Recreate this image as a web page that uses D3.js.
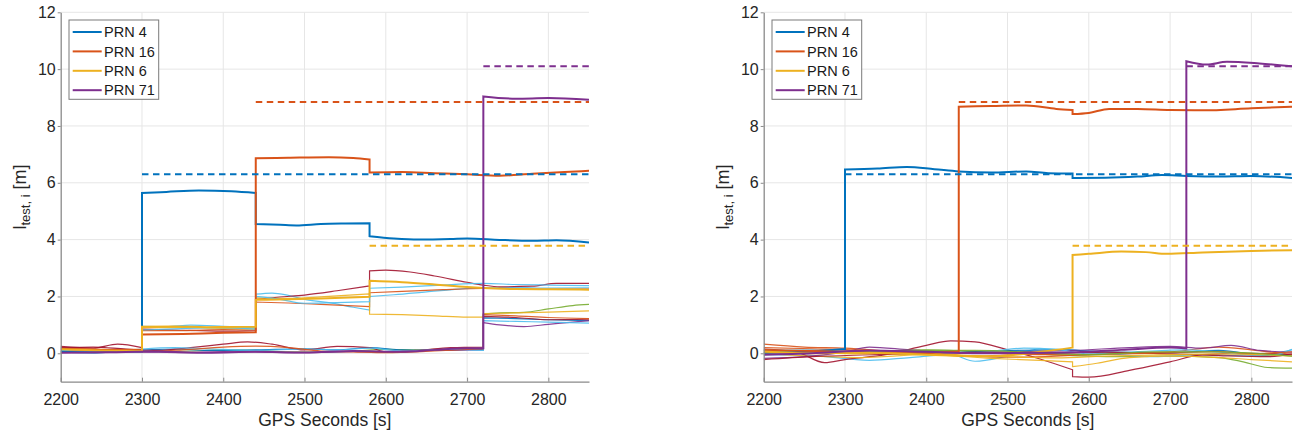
<!DOCTYPE html>
<html><head><meta charset="utf-8">
<script src="https://cdn.jsdelivr.net/npm/d3@7"></script>
<style>body{margin:0;background:#fff;} svg{display:block;font-family:"Liberation Sans",Arial,sans-serif;}</style>
</head><body><svg id="c" width="1296" height="434"></svg>
<script>
// ---- ticks / labels ----
const xTicks = [2200, 2300, 2400, 2500, 2600, 2700, 2800];
const yTicks = [0, 2, 4, 6, 8, 10, 12];
const xDomain = [2200, 2850];
const yDomain = [-1, 12];
const legendNames = ["PRN 4", "PRN 16", "PRN 6", "PRN 71"];
const xLabel = "GPS Seconds [s]";

// ---- thresholds (dashed) per attacked PRN ----
const thresholdStart = [2300, 2440, 2580, 2720];
const thresholdValue = [6.3, 8.84, 3.78, 10.1];

// ---- LEFT panel: main PRNs ----
const L_PRN4 = [[2200,0.05],[2240,0.03],[2270,0.06],[2300,0.06],[2300,5.64],[2330,5.68],[2370,5.73],[2410,5.7],[2440,5.64],[2440,4.55],[2470,4.52],[2490,4.5],[2520,4.55],[2550,4.57],[2580,4.58],[2580,4.12],[2610,4.04],[2640,4.0],[2680,4.02],[2700,4.04],[2740,3.99],[2780,3.96],[2810,3.98],[2850,3.9]];
const L_PRN16 = [[2200,0.16],[2250,0.12],[2300,0.12],[2300,0.66],[2350,0.68],[2400,0.72],[2440,0.74],[2440,6.86],[2480,6.88],[2530,6.9],[2560,6.87],[2580,6.82],[2580,6.36],[2620,6.38],[2660,6.34],[2700,6.3],[2740,6.25],[2780,6.32],[2820,6.38],[2850,6.42]];
const L_PRN6 = [[2200,0.14],[2250,0.1],[2300,0.08],[2300,0.93],[2340,0.94],[2380,0.92],[2440,0.93],[2440,1.88],[2480,1.9],[2520,1.93],[2580,1.99],[2580,2.55],[2620,2.5],[2660,2.42],[2700,2.33],[2720,2.3],[2760,2.26],[2800,2.25],[2850,2.24]];
const L_PRN71 = [[2200,0.02],[2260,0.04],[2320,0.06],[2380,0.02],[2440,0.05],[2500,0.03],[2560,0.08],[2620,0.05],[2660,0.12],[2700,0.18],[2720,0.18],[2720,9.04],[2760,8.96],[2800,8.98],[2850,8.92]];

// ---- LEFT panel: other satellites ----
const L_green1 = [[2200,0.08],[2240,0.05],[2280,0.1],[2320,0.06],[2360,0.08],[2400,0.12],[2440,0.1],[2480,0.05],[2520,0.04],[2560,0.08],[2600,0.14],[2640,0.12],[2680,0.16],[2720,0.14],[2720,1.38],[2740,1.42],[2770,1.44],[2800,1.56],[2830,1.68],[2850,1.72]];
const L_cyan1 = [[2200,0.12],[2230,0.06],[2260,0.04],[2300,0.12],[2300,0.95],[2330,0.94],[2360,0.99],[2400,0.95],[2440,0.9],[2440,2.08],[2460,2.12],[2480,2.04],[2500,1.9],[2530,1.78],[2560,1.62],[2580,1.52],[2580,2.0],[2610,2.06],[2650,2.16],[2690,2.26],[2720,2.3],[2760,2.32],[2800,2.29],[2850,2.3]];
const L_darkred1 = [[2200,0.24],[2240,0.18],[2270,0.32],[2300,0.2],[2300,0.85],[2340,0.82],[2400,0.78],[2440,0.8],[2440,1.9],[2470,1.98],[2500,2.05],[2540,2.2],[2580,2.37],[2580,2.9],[2600,2.93],[2630,2.86],[2660,2.72],[2700,2.5],[2720,2.4],[2740,2.34],[2780,2.36],[2810,2.46],[2850,2.46]];
const L_blue2 = [[2200,0.06],[2250,0.08],[2300,0.12],[2340,0.15],[2380,0.1],[2440,0.12],[2500,0.16],[2540,0.12],[2580,0.2],[2620,0.12],[2660,0.1],[2720,0.15],[2720,1.25],[2760,1.22],[2800,1.18],[2850,1.15]];
const L_orange2 = [[2200,0.18],[2250,0.14],[2300,0.15],[2300,0.8],[2350,0.8],[2400,0.83],[2440,0.82],[2440,1.8],[2480,1.77],[2520,1.72],[2580,1.64],[2580,2.13],[2620,2.18],[2670,2.24],[2720,2.28],[2760,2.27],[2800,2.25],[2850,2.26]];
const L_yellow2 = [[2200,0.12],[2250,0.08],[2300,0.1],[2300,0.9],[2350,0.9],[2400,0.88],[2440,0.86],[2440,1.95],[2480,1.93],[2530,2.0],[2580,2.09],[2580,1.38],[2620,1.36],[2660,1.32],[2700,1.27],[2720,1.27],[2720,1.4],[2760,1.42],[2800,1.45],[2850,1.49]];
const L_purple2 = [[2200,0.04],[2260,0.06],[2300,0.05],[2350,0.02],[2400,0.06],[2450,0.04],[2500,0.02],[2560,0.06],[2600,0.04],[2660,0.1],[2720,0.12],[2720,1.08],[2740,1.0],[2770,0.94],[2800,1.02],[2830,1.1],[2850,1.15]];
const L_cyan2 = [[2200,0.06],[2260,0.1],[2300,0.08],[2300,0.82],[2340,0.86],[2390,0.9],[2440,0.85],[2440,2.0],[2470,1.9],[2500,1.76],[2540,1.78],[2580,1.82],[2580,2.29],[2620,2.33],[2670,2.4],[2720,2.46],[2760,2.42],[2800,2.4],[2850,2.38]];
const L_darkred2 = [[2200,0.2],[2240,0.22],[2280,0.15],[2320,0.1],[2360,0.2],[2400,0.32],[2430,0.4],[2460,0.32],[2500,0.12],[2540,0.24],[2580,0.2],[2600,0.05],[2640,0.1],[2680,0.2],[2720,0.22],[2720,1.3],[2760,1.26],[2800,1.18],[2850,1.2]];
const L_cyan3 = [[2200,0.1],[2260,0.04],[2300,0.15],[2340,0.2],[2380,0.16],[2440,0.1],[2500,0.15],[2540,0.12],[2580,0.18],[2620,0.08],[2680,0.14],[2720,0.1],[2720,1.15],[2760,1.12],[2800,1.1],[2850,1.06]];
const L_orange3 = [[2200,0.15],[2260,0.12],[2300,0.06],[2350,0.12],[2400,0.22],[2440,0.25],[2480,0.2],[2520,0.08],[2560,0.05],[2600,0.02],[2660,0.08],[2720,0.16],[2720,1.36],[2760,1.32],[2800,1.26],[2850,1.22]];

// ---- RIGHT panel: main PRNs ----
const R_PRN4 = [[2200,0.02],[2250,0.05],[2300,0.15],[2300,6.47],[2340,6.5],[2376,6.56],[2410,6.48],[2440,6.4],[2480,6.36],[2523,6.4],[2550,6.34],[2580,6.33],[2580,6.17],[2620,6.18],[2660,6.22],[2690,6.27],[2720,6.24],[2760,6.22],[2800,6.24],[2850,6.17]];
const R_PRN16 = [[2200,0.12],[2300,0.05],[2360,0.0],[2400,0.02],[2440,0.06],[2440,8.68],[2480,8.7],[2523,8.72],[2560,8.6],[2580,8.56],[2580,8.42],[2600,8.46],[2625,8.6],[2660,8.6],[2700,8.56],[2740,8.55],[2800,8.62],[2850,8.68]];
const R_PRN6 = [[2200,0.05],[2260,0.0],[2320,0.02],[2400,-0.05],[2480,-0.1],[2540,0.05],[2580,0.2],[2580,3.46],[2600,3.5],[2640,3.58],[2670,3.56],[2696,3.5],[2740,3.55],[2800,3.6],[2850,3.63]];
const R_PRN71 = [[2200,-0.05],[2260,0.0],[2330,0.1],[2400,0.05],[2480,0.0],[2560,0.02],[2640,0.12],[2700,0.2],[2720,0.17],[2720,10.28],[2745,10.16],[2770,10.26],[2810,10.2],[2850,10.1]];

// ---- RIGHT panel: other satellites ----
const R_green1 = [[2200,0.05],[2260,0.08],[2320,0.02],[2400,0.12],[2460,0.06],[2520,0.0],[2580,-0.08],[2640,-0.12],[2700,-0.1],[2760,-0.15],[2790,-0.3],[2820,-0.5],[2850,-0.52]];
const R_cyan1 = [[2200,-0.05],[2260,-0.08],[2330,-0.25],[2380,-0.15],[2430,-0.05],[2460,-0.28],[2500,-0.1],[2540,0.15],[2580,0.12],[2620,0.0],[2680,-0.12],[2740,-0.05],[2800,-0.1],[2850,0.12]];
const R_darkred1 = [[2200,0.15],[2240,0.05],[2275,-0.33],[2300,-0.22],[2350,-0.05],[2400,0.28],[2430,0.44],[2460,0.4],[2500,0.12],[2540,-0.2],[2580,-0.58],[2580,-0.82],[2600,-0.84],[2650,-0.6],[2700,-0.3],[2740,-0.05],[2800,0.0],[2850,-0.05]];
const R_blue2 = [[2200,0.1],[2260,0.02],[2320,0.08],[2400,0.0],[2480,0.08],[2560,0.12],[2620,0.05],[2700,0.02],[2760,0.1],[2820,-0.08],[2850,-0.05]];
const R_orange2 = [[2200,0.32],[2250,0.22],[2300,0.18],[2360,0.06],[2420,-0.04],[2500,-0.14],[2560,-0.1],[2620,0.0],[2700,0.05],[2760,0.22],[2800,0.12],[2850,-0.05]];
const R_yellow2 = [[2200,0.0],[2260,-0.1],[2320,-0.15],[2400,-0.05],[2480,-0.18],[2540,-0.25],[2580,-0.3],[2580,-0.47],[2610,-0.35],[2650,-0.15],[2700,-0.1],[2760,-0.15],[2800,-0.22],[2850,-0.3]];
const R_purple2 = [[2200,-0.18],[2250,-0.12],[2300,0.05],[2330,0.22],[2380,0.12],[2450,0.02],[2520,0.06],[2580,0.1],[2650,0.2],[2700,0.24],[2740,0.18],[2775,0.28],[2810,0.1],[2850,0.04]];
const R_cyan2 = [[2200,0.1],[2260,0.12],[2320,0.06],[2400,0.05],[2460,0.02],[2520,0.18],[2560,0.14],[2600,-0.02],[2660,0.06],[2720,0.12],[2790,-0.04],[2820,-0.1],[2850,0.14]];
const R_darkred2 = [[2200,-0.22],[2260,-0.12],[2320,-0.06],[2400,0.0],[2480,0.04],[2560,0.0],[2620,0.04],[2700,-0.02],[2760,-0.08],[2820,-0.12],[2850,-0.02]];
const R_orange3 = [[2200,0.2],[2260,0.16],[2330,0.1],[2400,-0.02],[2460,-0.1],[2520,-0.04],[2580,-0.06],[2640,-0.02],[2700,0.02],[2760,0.06],[2800,-0.02],[2850,0.05]];
const R_yellow3 = [[2200,0.08],[2260,0.02],[2320,-0.02],[2380,0.04],[2440,-0.06],[2500,-0.12],[2560,-0.16],[2620,-0.1],[2700,-0.05],[2760,-0.02],[2850,-0.1]];
const R_green2 = [[2200,0.02],[2300,0.06],[2380,0.1],[2460,0.1],[2540,0.02],[2600,-0.05],[2680,0.05],[2760,0.05],[2850,-0.1]];

// ---- colours ----
const C = {blue:"#0072BD", orange:"#D95319", yellow:"#EDB120", purple:"#7E2F8E", green:"#77AC30", cyan:"#4DBEEE", darkred:"#A2142F"};
const mainColors = [C.blue, C.orange, C.yellow, C.purple];

const leftMain = [L_PRN4, L_PRN16, L_PRN6, L_PRN71];
const leftOthers = [[L_green1,C.green],[L_cyan1,C.cyan],[L_darkred1,C.darkred],[L_blue2,C.blue],[L_orange2,C.orange],[L_yellow2,C.yellow],[L_purple2,C.purple],[L_cyan2,C.cyan],[L_darkred2,C.darkred],[L_cyan3,C.cyan],[L_orange3,C.orange]];
const rightMain = [R_PRN4, R_PRN16, R_PRN6, R_PRN71];
const rightOthers = [[R_green1,C.green],[R_cyan1,C.cyan],[R_darkred1,C.darkred],[R_blue2,C.blue],[R_orange2,C.orange],[R_yellow2,C.yellow],[R_purple2,C.purple],[R_cyan2,C.cyan],[R_darkred2,C.darkred],[R_orange3,C.orange],[R_yellow3,C.yellow],[R_green2,C.green]];

const svg = d3.select("#c");
const PW = 528.3, TOP = 12.3, BOT = 381.7;

function pathFor(pts, x, y) {
  const gen = d3.line().x(d => x(d[0])).y(d => y(d[1])).curve(d3.curveMonotoneX);
  const runs = []; let cur = [pts[0]];
  for (let i = 1; i < pts.length; i++) {
    if (pts[i][0] === pts[i-1][0]) { runs.push(cur); cur = [pts[i]]; } else cur.push(pts[i]);
  }
  runs.push(cur);
  return runs.map((r, i) => {
    const s = r.length > 1 ? gen(r) : "M" + x(r[0][0]) + "," + y(r[0][1]);
    return i ? "L" + s.slice(1) : s;
  }).join("");
}

function panel(x0, main, others, id) {
  const x = d3.scaleLinear().domain(xDomain).range([x0, x0 + PW]);
  const y = d3.scaleLinear().domain(yDomain).range([BOT, TOP]);
  const g = svg.append("g");
  g.append("clipPath").attr("id", "clip" + id).append("rect")
    .attr("x", x0).attr("y", TOP - 2).attr("width", PW).attr("height", BOT - TOP + 2);
  // grid
  g.append("g").selectAll("line").data(xTicks.filter(t => t > xDomain[0])).join("line")
    .attr("x1", d => x(d)).attr("x2", d => x(d)).attr("y1", TOP).attr("y2", BOT)
    .attr("stroke", "#e6e6e6").attr("stroke-width", 1);
  g.append("g").selectAll("line").data(yTicks).join("line")
    .attr("x1", x0).attr("x2", x0 + PW).attr("y1", d => y(d)).attr("y2", d => y(d))
    .attr("stroke", "#e6e6e6").attr("stroke-width", 1);

  const plot = g.append("g").attr("clip-path", `url(#clip${id})`);
  others.forEach(([pts, col]) => {
    plot.append("path").attr("d", pathFor(pts, x, y)).attr("fill", "none")
      .attr("stroke", col).attr("stroke-width", 1.2).attr("stroke-opacity", 0.9);
  });
  main.forEach((pts, i) => {
    plot.append("path").attr("d", pathFor(pts, x, y)).attr("fill", "none")
      .attr("stroke", mainColors[i]).attr("stroke-width", 2);
  });
  thresholdStart.forEach((s, i) => {
    plot.append("line").attr("x1", x(s)).attr("x2", x(xDomain[1]))
      .attr("y1", y(thresholdValue[i])).attr("y2", y(thresholdValue[i]))
      .attr("stroke", mainColors[i]).attr("stroke-width", 2).attr("stroke-dasharray", "6.5,4.5");
  });

  // axes
  const xa = g.append("g").attr("transform", `translate(0,${BOT})`)
    .call(d3.axisBottom(x).tickValues(xTicks).tickFormat(d3.format("d")).tickSizeInner(-4).tickSizeOuter(0).tickPadding(12));
  const ya = g.append("g").attr("transform", `translate(${x0},0)`)
    .call(d3.axisLeft(y).tickValues(yTicks).tickFormat(d3.format("d")).tickSizeInner(3).tickSizeOuter(0).tickPadding(2));
  [xa, ya].forEach(a => {
    a.select(".domain").attr("stroke", "#8a8a8a").attr("stroke-width", 1.3);
    a.selectAll(".tick line").attr("stroke", "#8a8a8a").attr("stroke-width", 1);
    a.selectAll("text").attr("fill", "#262626").style("font-size", "16px").style("font-family", '"Liberation Sans",Arial,sans-serif');
  });

  // x label
  g.append("text").attr("x", x0 + PW / 2).attr("y", 426).attr("text-anchor", "middle")
    .attr("fill", "#262626").style("font-size", "17.5px").text(xLabel);
  // y label
  const yl = g.append("text").attr("transform", `translate(${x0 - 35.2},${(TOP + BOT) / 2}) rotate(-90)`)
    .attr("text-anchor", "middle").attr("fill", "#262626").style("font-size", "18px");
  yl.append("tspan").text("l");
  yl.append("tspan").attr("dy", 4).style("font-size", "13px").text("test, i");
  yl.append("tspan").attr("dy", -4).text(" [m]");

  // legend
  const lx = x0 + 8.3, ly = 20;
  const lg = g.append("g");
  lg.append("rect").attr("x", lx).attr("y", ly).attr("width", 89.7).attr("height", 79.3)
    .attr("fill", "#fff").attr("stroke", "#7a7a7a").attr("stroke-width", 1);
  legendNames.forEach((n, i) => {
    const yy = ly + 12 + i * 19.4;
    lg.append("line").attr("x1", lx + 3.7).attr("x2", lx + 32.7).attr("y1", yy).attr("y2", yy)
      .attr("stroke", mainColors[i]).attr("stroke-width", 2);
    lg.append("text").attr("x", lx + 35).attr("y", yy).attr("dy", "0.36em")
      .attr("fill", "#1a1a1a").style("font-size", "14.5px").text(n);
  });
}

panel(60.7, leftMain, leftOthers, "L");
panel(763.7, rightMain, rightOthers, "R");
</script>
</body></html>
